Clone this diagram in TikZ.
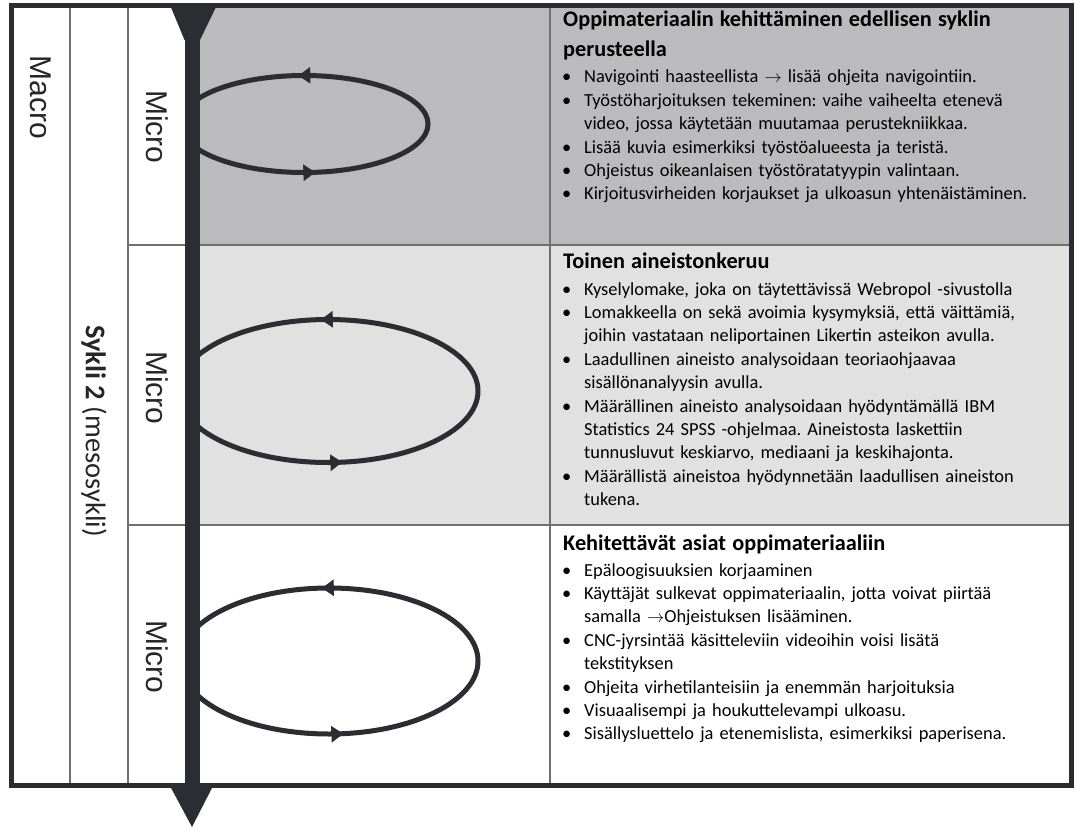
\documentclass[tikz,border=0pt]{standalone}
\usepackage{fontspec}
\setmainfont{Carlito}
\newfontfamily\arialfont{Liberation Sans}
\usepackage{enumitem}
\usetikzlibrary{arrows.meta,decorations.markings}
\frenchspacing

\definecolor{darkline}{HTML}{2B2D33}
\definecolor{rowdark}{HTML}{BBBBBD}
\definecolor{rowlight}{HTML}{E1E1E1}
\definecolor{gridline}{HTML}{707070}

\newcommand{\celltitle}[1]{{\fontsize{22.3}{30}\selectfont\bfseries #1\par}\vspace{2.6pt}}
\newenvironment{cellitems}{\begin{itemize}[label=\textbullet, leftmargin=21pt, labelsep=13pt, topsep=0pt, partopsep=0pt, itemsep=0pt, parsep=0pt]}{\end{itemize}}

\tikzset{
  cell/.style={anchor=base west, inner sep=0pt, text width=505pt, align=left, font=\fontsize{18.4}{23.4}\selectfont},
  vlabel/.style={rotate=-90, inner sep=0pt, text=black!85, font=\arialfont\fontsize{30}{36}\selectfont},
  gridrule/.style={draw=gridline, line width=1.3pt},
  cyclepath/.style={draw=darkline, color=darkline, line width=5pt, postaction={decorate},
    decoration={markings,
      mark=at position 0.26 with {\arrow{Triangle[length=12pt,width=16pt]}},
      mark=at position 0.77 with {\arrow{Triangle[length=12pt,width=16pt]}}}},
}

\begin{document}
\begin{tikzpicture}[x=1pt,y=1pt]
	\useasboundingbox (0,0) rectangle (1076,-829);
	% row backgrounds
	\fill[rowdark] (200,-5) rectangle (1072,-245);
	\fill[rowlight] (200,-245) rectangle (1072,-525);
	% grid
	\draw[gridrule] (70,-5) -- (70,-785);
	\draw[gridrule] (128,-5) -- (128,-785);
	\draw[gridrule] (550,-5) -- (550,-785);
	\draw[gridrule] (128,-245) -- (1072,-245);
	\draw[gridrule] (128,-525) -- (1072,-525);
	% micro cycles
	\begin{scope}
	\clip (192,-5) rectangle (1072,-785);
	\draw[cyclepath] (304,-124) ellipse [x radius=124, y radius=48.5];
	\draw[cyclepath] (328,-391) ellipse [x radius=150, y radius=71.5];
	\draw[cyclepath] (329,-661) ellipse [x radius=149, y radius=73];
	\end{scope}
	% time axis
	\fill[darkline] (184.5,-5) rectangle (200,-788);
	\fill[darkline] (170,-5) -- (217,-5) -- (200,-40) -- (184.5,-40) -- cycle;
	\fill[darkline] (170,-786) -- (213,-786) -- (192,-827) -- cycle;
	% frame
	\draw[darkline, line width=5.5pt] (11.5,-5.5) rectangle (1071.5,-785.5);

	\node[vlabel] (macro) at (41,-97.5) {Macro};
	\node[vlabel, font=\fontsize{28.5}{34}\selectfont] (sykli) at (94,-431) {\textbf{Sykli 2} (mesosykli)};
	\node[vlabel] (micro1) at (157,-127) {Micro};
	\node[vlabel] (micro2) at (157,-388) {Micro};
	\node[vlabel] (micro3) at (157,-657) {Micro};

	\node[cell] (txt1) at (563,-27) {\celltitle{Oppimateriaalin kehittäminen edellisen syklin\newline perusteella}
		\begin{cellitems}
		\item Navigointi haasteellista $\rightarrow$ lisää ohjeita navigointiin.
		\item Työstöharjoituksen tekeminen: vaihe vaiheelta etenevä\newline video, jossa käytetään muutamaa perustekniikkaa.
		\item Lisää kuvia esimerkiksi työstöalueesta ja teristä.
		\item Ohjeistus oikeanlaisen työstöratatyypin valintaan.
		\item Kirjoitusvirheiden korjaukset ja ulkoasun yhtenäistäminen.
		\end{cellitems}};
	\node[cell] (txt2) at (563,-269) {\celltitle{Toinen aineistonkeruu}
		\begin{cellitems}
		\item Kyselylomake, joka on täytettävissä Webropol -sivustolla
		\item Lomakkeella on sekä avoimia kysymyksiä, että väittämiä,\newline joihin vastataan neliportainen Likertin asteikon avulla.
		\item Laadullinen aineisto analysoidaan teoriaohjaavaa\newline sisällönanalyysin avulla.
		\item Määrällinen aineisto analysoidaan hyödyntämällä IBM\newline Statistics 24 SPSS -ohjelmaa. Aineistosta laskettiin\newline tunnusluvut keskiarvo, mediaani ja keskihajonta.
		\item Määrällistä aineistoa hyödynnetään laadullisen aineiston\newline tukena.
		\end{cellitems}};
	\node[cell] (txt3) at (563,-550) {\celltitle{Kehitettävät asiat oppimateriaaliin}
		\begin{cellitems}
		\item Epäloogisuuksien korjaaminen
		\item Käyttäjät sulkevat oppimateriaalin, jotta voivat piirtää\newline samalla $\rightarrow$Ohjeistuksen lisääminen.
		\item CNC-jyrsintää käsitteleviin videoihin voisi lisätä\newline tekstityksen
		\item Ohjeita virhetilanteisiin ja enemmän harjoituksia
		\item Visuaalisempi ja houkuttelevampi ulkoasu.
		\item Sisällysluettelo ja etenemislista, esimerkiksi paperisena.
		\end{cellitems}};
\end{tikzpicture}
\end{document}
